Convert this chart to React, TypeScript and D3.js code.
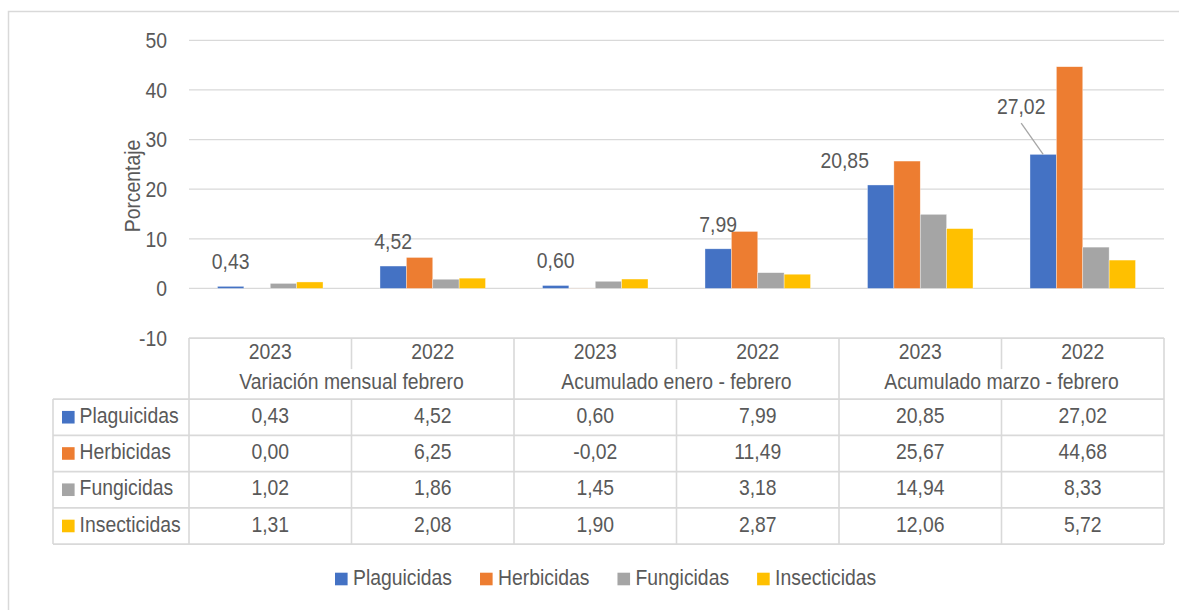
import React from "react";
import * as d3 from "d3";

const years = ["2023", "2022", "2023", "2022", "2023", "2022"];
const groups = ["Variación mensual febrero", "Acumulado enero - febrero", "Acumulado marzo - febrero"];
const seriesNames = ["Plaguicidas", "Herbicidas", "Fungicidas", "Insecticidas"];
const plaguicidas = [0.43, 4.52, 0.6, 7.99, 20.85, 27.02];
const herbicidas = [0.0, 6.25, -0.02, 11.49, 25.67, 44.68];
const fungicidas = [1.02, 1.86, 1.45, 3.18, 14.94, 8.33];
const insecticidas = [1.31, 2.08, 1.9, 2.87, 12.06, 5.72];
const yTicks = [-10, 0, 10, 20, 30, 40, 50];

const seriesValues = [plaguicidas, herbicidas, fungicidas, insecticidas];
const colors = ["#4472C4", "#ED7D31", "#A5A5A5", "#FFC000"];
// data label placement offsets (style, not data)
const labelDx = [0, 0, 0, 0, -36, -22];
const labelDy = [-17, -17, -17, -17, -17, -40];

const FONT = "'Liberation Sans', Arial, sans-serif";
const FS = 22;
const SX = 0.88;
const TXT = "#595959";
const GRID = "#d9d9d9";

const fmt = (v: number) => v.toFixed(2).replace(".", ",");

let _ctx: CanvasRenderingContext2D | null = null;
function measure(s: string) {
  if (!_ctx) _ctx = document.createElement("canvas").getContext("2d");
  if (!_ctx) return s.length * 10;
  _ctx.font = `${FS}px ${FONT}`;
  return _ctx.measureText(s).width * SX;
}

function T({ x, y, children, anchor = "middle", rotate = 0, fill = TXT }: any) {
  return (
    <text
      transform={`translate(${x},${y}) rotate(${rotate}) scale(${SX},1)`}
      textAnchor={anchor}
      fontFamily={FONT}
      fontSize={FS}
      fill={fill}
    >
      {children}
    </text>
  );
}

export default function App() {
  const W = 1179, H = 610;
  const left = 189, right = 1164;
  const y = d3.scaleLinear().domain([-10, 50]).range([338.1, 40.3]);
  const x = d3.scaleBand<number>().domain(d3.range(years.length)).range([left, right]);
  const xs = d3.scaleBand<string>().domain(seriesNames).range([0, x.bandwidth()]).paddingInner(0).paddingOuter(1.08);
  const bw = x.bandwidth();

  // table geometry
  const tTop = y(-10);
  const yearBottom = tTop + 31;
  const headBottom = tTop + 61;
  const rowH = 36.25;
  const tLeft = 53;
  const tBottom = headBottom + rowH * seriesNames.length;

  // legend layout
  const legY = 579;
  let lx = 335;
  const legendItems = seriesNames.map((s, i) => {
    const it = { s, i, x: lx };
    lx += 12 + 6 + measure(s) + 28;
    return it;
  });

  return (
    <svg width={W} height={H} style={{ position: "fixed", left: 0, top: 0, background: "#fff" }}>
      <rect x={8.5} y={11.5} width={W + 20} height={H + 20} fill="#fff" stroke={GRID} strokeWidth={1.5} />
      {/* gridlines */}
      {yTicks.filter((t) => t > -10).map((t) => (
        <line key={t} x1={left} x2={right} y1={y(t)} y2={y(t)} stroke={GRID} strokeWidth={1.2} />
      ))}
      {yTicks.map((t) => (
        <T key={"t" + t} x={167} y={y(t) + 7.8} anchor="end">
          {String(t)}
        </T>
      ))}
      <T x={139.5} y={186} rotate={-90}>Porcentaje</T>
      {/* bars */}
      {seriesValues.map((vals, si) =>
        vals.map((v, ci) => {
          const bx = (x(ci) as number) + (xs(seriesNames[si]) as number);
          const y0 = y(0);
          const yv = y(v);
          return (
            <rect
              key={si + "-" + ci}
              x={bx}
              y={Math.min(y0, yv)}
              width={xs.bandwidth()}
              height={Math.abs(yv - y0)}
              fill={colors[si]}
              stroke="#ffffff"
              strokeOpacity={0.6}
              strokeWidth={0.6}
            />
          );
        })
      )}
      {/* data labels for Plaguicidas */}
      {plaguicidas.map((v, ci) => {
        const cx = (x(ci) as number) + (xs(seriesNames[0]) as number) + xs.bandwidth() / 2;
        const top = y(Math.max(0, v));
        const lxp = cx + labelDx[ci];
        const ly = top + labelDy[ci];
        return (
          <g key={"lab" + ci}>
            {labelDy[ci] < -25 && (
              <line x1={lxp} y1={ly + 8.7} x2={cx} y2={top} stroke="#a6a6a6" strokeWidth={1.3} />
            )}
            <T x={lxp} y={ly}>{fmt(v)}</T>
          </g>
        );
      })}
      {/* table */}
      <g stroke={GRID} strokeWidth={1.6} fill="none">
        <line x1={left} x2={right} y1={tTop} y2={tTop} />
        {[0, 1, 2, 3, 4].map((r) => (
          <line key={"h" + r} x1={tLeft} x2={right} y1={headBottom + r * rowH} y2={headBottom + r * rowH} />
        ))}
        <line x1={tLeft} x2={tLeft} y1={headBottom} y2={tBottom} />
        {d3.range(years.length + 1).map((i) => {
          const xx = i === years.length ? right : (x(i) as number);
          if (i % 2 === 0) return <line key={"v" + i} x1={xx} x2={xx} y1={tTop} y2={tBottom} />;
          return (
            <g key={"v" + i}>
              <line x1={xx} x2={xx} y1={tTop} y2={yearBottom} />
              <line x1={xx} x2={xx} y1={headBottom} y2={tBottom} />
            </g>
          );
        })}
      </g>
      {years.map((yr, i) => (
        <T key={"yr" + i} x={(x(i) as number) + bw / 2} y={tTop + 21}>{yr}</T>
      ))}
      {groups.map((g, gi) => (
        <T key={"g" + gi} x={(x(gi * 2) as number) + bw} y={yearBottom + 19.5}>{g}</T>
      ))}
      {seriesNames.map((s, si) => {
        const ry = headBottom + si * rowH;
        return (
          <g key={"row" + s}>
            <rect x={62} y={ry + rowH / 2 - 6.3} width={12.6} height={12.6} fill={colors[si]} />
            <T x={79.6} y={ry + 23.7} anchor="start">{s}</T>
            {seriesValues[si].map((v, ci) => (
              <T key={ci} x={(x(ci) as number) + bw / 2} y={ry + 23.7}>{fmt(v)}</T>
            ))}
          </g>
        );
      })}
      {/* legend */}
      {legendItems.map((it) => (
        <g key={"leg" + it.s}>
          <rect x={it.x} y={legY - 6.3} width={12.6} height={12.6} fill={colors[it.i]} />
          <T x={it.x + 18} y={legY + 5.7} anchor="start">{it.s}</T>
        </g>
      ))}
    </svg>
  );
}
